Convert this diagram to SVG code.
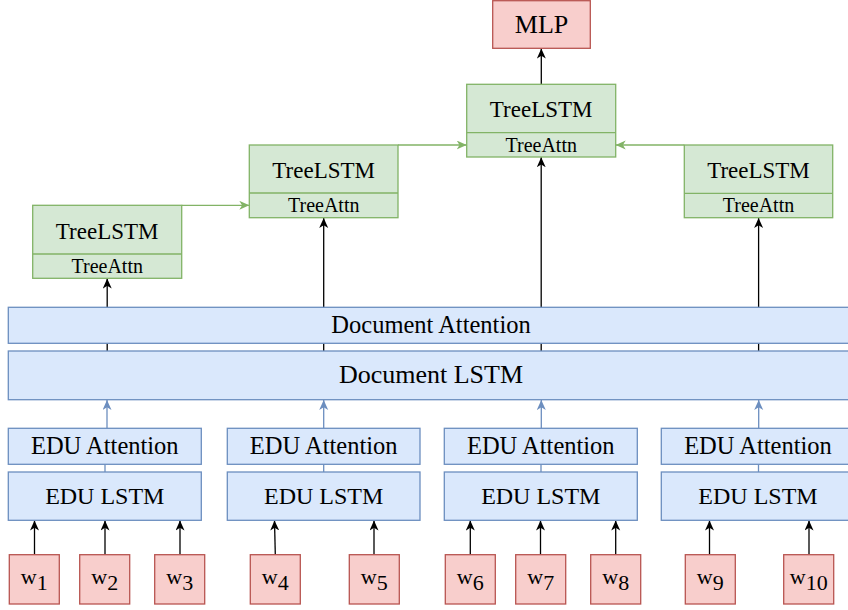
<svg xmlns="http://www.w3.org/2000/svg" width="848" height="610" viewBox="0 0 848 610">
<style>
.t{font-family:"Liberation Serif","Times New Roman",serif;fill:#000;text-anchor:middle}
.g{fill:#d5e8d4;stroke:#82b366;stroke-width:1.3}
.b{fill:#dae8fc;stroke:#6c8ebf;stroke-width:1.3}
.r{fill:#f8cecc;stroke:#b85450;stroke-width:1.3}
.k{stroke:#000;stroke-width:1.3;fill:none}
.kb{stroke:#6c8ebf;stroke-width:1.3;fill:none}
.kg{stroke:#82b366;stroke-width:1.3;fill:none}
</style>
<defs>
<marker id="ak" markerUnits="userSpaceOnUse" markerWidth="11" markerHeight="10" refX="10" refY="4.5" orient="auto"><path d="M0,0 L10,4.5 L0,9 L2.8,4.5 Z" fill="#000"/></marker>
<marker id="ab" markerUnits="userSpaceOnUse" markerWidth="11" markerHeight="10" refX="10" refY="4.5" orient="auto"><path d="M0,0 L10,4.5 L0,9 L2.8,4.5 Z" fill="#6c8ebf"/></marker>
<marker id="ag" markerUnits="userSpaceOnUse" markerWidth="11" markerHeight="10" refX="10" refY="4.5" orient="auto"><path d="M0,0 L10,4.5 L0,9 L2.8,4.5 Z" fill="#82b366"/></marker>
</defs>
<rect width="848" height="610" fill="#fff"/>
<g id="connectors">
<line class="k" x1="34.5" y1="554.7" x2="34.5" y2="520.5" marker-end="url(#ak)"/>
<line class="k" x1="105" y1="554.7" x2="105" y2="520.5" marker-end="url(#ak)"/>
<line class="k" x1="180" y1="554.7" x2="180" y2="520.5" marker-end="url(#ak)"/>
<line class="k" x1="275.3" y1="554.7" x2="274.5" y2="520.5" marker-end="url(#ak)"/>
<line class="k" x1="374" y1="554.7" x2="374" y2="520.5" marker-end="url(#ak)"/>
<line class="k" x1="470.3" y1="554.7" x2="470.3" y2="520.5" marker-end="url(#ak)"/>
<line class="k" x1="540.5" y1="554.7" x2="540.5" y2="520.5" marker-end="url(#ak)"/>
<line class="k" x1="615.7" y1="554.7" x2="615.7" y2="520.5" marker-end="url(#ak)"/>
<line class="k" x1="709.5" y1="554.7" x2="709.5" y2="520.5" marker-end="url(#ak)"/>
<line class="k" x1="809" y1="554.7" x2="809" y2="520.5" marker-end="url(#ak)"/>
<line class="kb" x1="105" y1="472" x2="105" y2="464"/>
<line class="kb" x1="323.7" y1="472" x2="323.7" y2="464"/>
<line class="kb" x1="541" y1="472" x2="541" y2="464"/>
<line class="kb" x1="758.5" y1="472" x2="758.5" y2="464"/>
<line class="kb" x1="107" y1="428.3" x2="107" y2="400" marker-end="url(#ab)"/>
<line class="kb" x1="323.7" y1="428.3" x2="323.7" y2="400" marker-end="url(#ab)"/>
<line class="kb" x1="541.3" y1="428.3" x2="541.3" y2="400" marker-end="url(#ab)"/>
<line class="kb" x1="758.7" y1="428.3" x2="758.7" y2="400" marker-end="url(#ab)"/>
<line class="k" x1="107.2" y1="351" x2="107.2" y2="278.6" marker-end="url(#ak)"/>
<line class="k" x1="323.7" y1="351" x2="323.7" y2="218" marker-end="url(#ak)"/>
<line class="k" x1="541.2" y1="351" x2="541.2" y2="157.3" marker-end="url(#ak)"/>
<line class="k" x1="758.6" y1="351" x2="758.6" y2="218" marker-end="url(#ak)"/>
<polyline class="kg" points="181.7,205.3 249.3,205.3" marker-end="url(#ag)"/>
<polyline class="kg" points="398,145 466.7,145" marker-end="url(#ag)"/>
<polyline class="kg" points="684.3,145 615.7,145" marker-end="url(#ag)"/>
<line class="k" x1="541.3" y1="84.3" x2="541.3" y2="48.6" marker-end="url(#ak)"/>
</g>
<g id="mlp"><rect class="r" x="492.7" y="0.7" width="97.6" height="47.6"/><text class="t" x="541.5" y="32.7" font-size="26">MLP</text></g>
<g id="tree-a"><rect class="g" x="32.7" y="205.3" width="149" height="73"/><line class="kg" x1="32.7" y1="254" x2="181.7" y2="254"/><text class="t" x="107.2" y="239" font-size="23">TreeLSTM</text><text class="t" x="107.2" y="272.7" font-size="20">TreeAttn</text></g>
<g id="tree-b"><rect class="g" x="249.3" y="145" width="148.7" height="72.7"/><line class="kg" x1="249.3" y1="193" x2="398" y2="193"/><text class="t" x="323.7" y="178" font-size="23">TreeLSTM</text><text class="t" x="323.7" y="212" font-size="20">TreeAttn</text></g>
<g id="tree-c"><rect class="g" x="466.7" y="84.3" width="149" height="72.7"/><line class="kg" x1="466.7" y1="132.7" x2="615.7" y2="132.7"/><text class="t" x="541.2" y="116.7" font-size="23">TreeLSTM</text><text class="t" x="541.2" y="151.7" font-size="20">TreeAttn</text></g>
<g id="tree-d"><rect class="g" x="684.3" y="145" width="148.4" height="72.7"/><line class="kg" x1="684.3" y1="193.3" x2="832.7" y2="193.3"/><text class="t" x="758.5" y="178" font-size="23">TreeLSTM</text><text class="t" x="758.5" y="212" font-size="20">TreeAttn</text></g>
<g id="doc-attention"><rect class="b" x="8.3" y="307.3" width="846" height="36"/><text class="t" x="431" y="333.3" font-size="24.5">Document Attention</text></g>
<g id="doc-lstm"><rect class="b" x="8.3" y="351" width="846" height="48.7"/><text class="t" x="431" y="383.3" font-size="26">Document LSTM</text></g>
<g id="edu-1"><rect class="b" x="8.3" y="428.3" width="193" height="36"/><text class="t" x="104.8" y="454.3" font-size="24.5">EDU Attention</text><rect class="b" x="8.3" y="472" width="193" height="48.3"/><text class="t" x="104.8" y="504.3" font-size="24">EDU LSTM</text></g>
<g id="edu-2"><rect class="b" x="227.3" y="428.3" width="192.7" height="36"/><text class="t" x="323.7" y="454.3" font-size="24.5">EDU Attention</text><rect class="b" x="227.3" y="472" width="192.7" height="48.3"/><text class="t" x="323.7" y="504.3" font-size="24">EDU LSTM</text></g>
<g id="edu-3"><rect class="b" x="444.3" y="428.3" width="193" height="36"/><text class="t" x="540.8" y="454.3" font-size="24.5">EDU Attention</text><rect class="b" x="444.3" y="472" width="193" height="48.3"/><text class="t" x="540.8" y="504.3" font-size="24">EDU LSTM</text></g>
<g id="edu-4"><rect class="b" x="661.3" y="428.3" width="193" height="36"/><text class="t" x="758" y="454.3" font-size="24.5">EDU Attention</text><rect class="b" x="661.3" y="472" width="193" height="48.3"/><text class="t" x="758" y="504.3" font-size="24">EDU LSTM</text></g>
<g id="w1"><rect class="r" x="9.3" y="554.7" width="50" height="49.3"/><text class="t" x="34.3" y="584" font-size="22">w<tspan dy="6">1</tspan></text></g>
<g id="w2"><rect class="r" x="79.7" y="554.7" width="50" height="49.3"/><text class="t" x="104.7" y="584" font-size="22">w<tspan dy="6">2</tspan></text></g>
<g id="w3"><rect class="r" x="154.7" y="554.7" width="50" height="49.3"/><text class="t" x="179.7" y="584" font-size="22">w<tspan dy="6">3</tspan></text></g>
<g id="w4"><rect class="r" x="250.3" y="554.7" width="50" height="49.3"/><text class="t" x="275.3" y="584" font-size="22">w<tspan dy="6">4</tspan></text></g>
<g id="w5"><rect class="r" x="349.3" y="554.7" width="50" height="49.3"/><text class="t" x="374.3" y="584" font-size="22">w<tspan dy="6">5</tspan></text></g>
<g id="w6"><rect class="r" x="445.3" y="554.7" width="50" height="49.3"/><text class="t" x="470.3" y="584" font-size="22">w<tspan dy="6">6</tspan></text></g>
<g id="w7"><rect class="r" x="515.7" y="554.7" width="50" height="49.3"/><text class="t" x="540.7" y="584" font-size="22">w<tspan dy="6">7</tspan></text></g>
<g id="w8"><rect class="r" x="590.7" y="554.7" width="50" height="49.3"/><text class="t" x="615.7" y="584" font-size="22">w<tspan dy="6">8</tspan></text></g>
<g id="w9"><rect class="r" x="685.3" y="554.7" width="50" height="49.3"/><text class="t" x="710.3" y="584" font-size="22">w<tspan dy="6">9</tspan></text></g>
<g id="w10"><rect class="r" x="783.7" y="554.7" width="50" height="49.3"/><text class="t" x="808.7" y="584" font-size="22">w<tspan dy="6">10</tspan></text></g>
</svg>
